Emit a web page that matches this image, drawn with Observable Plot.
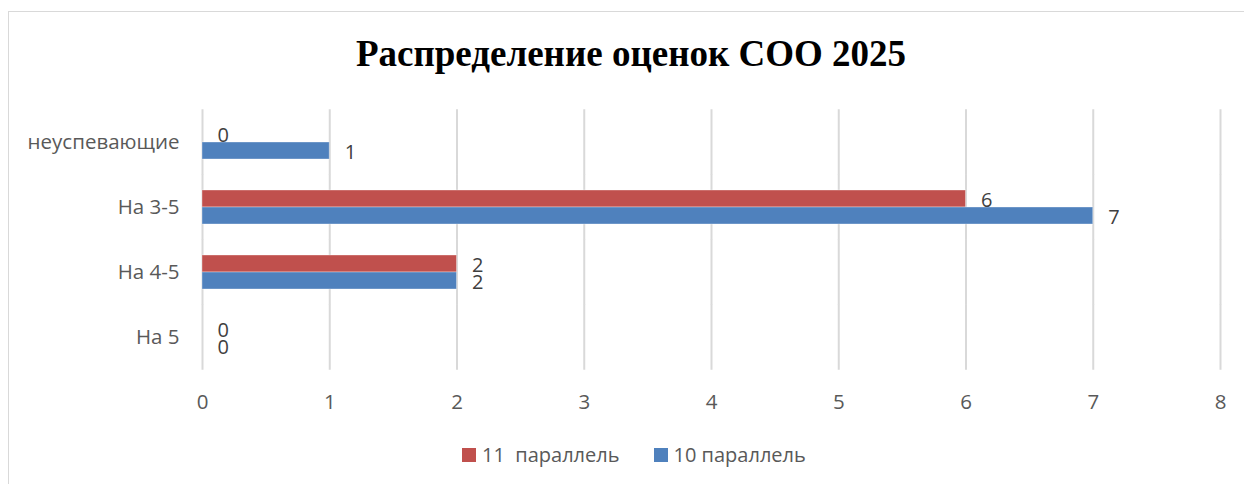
<!DOCTYPE html>
<html>
<head>
<meta charset="utf-8">
<script src="https://cdn.jsdelivr.net/npm/d3@7"></script>
<script src="https://cdn.jsdelivr.net/npm/@observablehq/plot@0.6"></script>
<style>
  html, body { margin: 0; padding: 0; background: #fff; width: 1244px; height: 484px; overflow: hidden; }
  body { position: relative; font-family: "Open Sans", sans-serif; }
  #frame { position: absolute; left: 8px; top: 11px; width: 1300px; height: 600px; border: 1px solid #d9d9d9; box-sizing: border-box; }
  #title { position: absolute; left: 9px; top: 35px; width: 1244px; text-align: center; font-family: "Liberation Serif", "Times New Roman", serif; font-weight: bold; font-size: 37px; line-height: 1; color: #000; }
  #chart { position: absolute; left: 0; top: 80px; }
  #legend { position: absolute; left: 462px; top: 443px; display: flex; align-items: center; font-size: 20px; color: #595959; white-space: pre; line-height: 24px; }
  .sw { display: inline-block; width: 14px; height: 14px; margin-right: 6px; }
  .item { display: flex; align-items: center; margin-right: 34px; }
</style>
</head>
<body>
<div id="frame"></div>
<div id="title">Распределение оценок СОО 2025</div>
<div id="chart"></div>
<div id="legend"></div>
<script>
const categories = ["неуспевающие", "На 3-5", "На 4-5", "На 5"];
const seriesNames = ["11  параллель", "10 параллель"];
const values11 = [0, 6, 2, 0];
const values10 = [1, 7, 2, 0];
const xTicks = [0, 1, 2, 3, 4, 5, 6, 7, 8];
const colors = ["#c0504d", "#4f81bd"];

const table = [];
categories.forEach((c, i) => {
  table.push({cat: c, series: seriesNames[0], value: values11[i]});
  table.push({cat: c, series: seriesNames[1], value: values10[i]});
});

const chart = Plot.plot({
  width: 1244,
  height: 360,
  marginLeft: 202,
  marginRight: 24,
  marginTop: 28,
  marginBottom: 70,
  style: {fontFamily: "'Open Sans', sans-serif", fontSize: "20.5px", color: "#595959", background: "transparent"},
  facet: {data: table, y: "cat", marginLeft: 202},
  fy: {domain: categories, paddingInner: 0.481, paddingOuter: 0.2405, label: null, tickSize: 0, tickPadding: 23},
  y: {domain: seriesNames, padding: 0, axis: null},
  x: {domain: [0, 8], ticks: xTicks, tickFormat: d => String(d), tickSize: 0, tickPadding: 40, label: null},
  color: {domain: seriesNames, range: colors},
  marks: [
    Plot.ruleX(xTicks, {x: d => d, stroke: "#d9d9d9", strokeWidth: 2, insetTop: -15.75, insetBottom: -15.75}),
    Plot.barX(table, {x: "value", y: "series", fill: "series", stroke: "#ffffff", strokeOpacity: 0.35, strokeWidth: 1}),
    Plot.text(table, {x: "value", y: "series", text: d => String(d.value), textAnchor: "start", dx: 15, dy: 1.5, fill: "#404040", fontSize: 20})
  ]
});
document.getElementById("chart").appendChild(chart);

const legend = document.getElementById("legend");
seriesNames.forEach((s, i) => {
  const item = document.createElement("div");
  item.className = "item";
  const sw = document.createElement("span");
  sw.className = "sw";
  sw.style.background = colors[i];
  const t = document.createElement("span");
  t.textContent = s;
  item.appendChild(sw);
  item.appendChild(t);
  legend.appendChild(item);
});
</script>
</body>
</html>
